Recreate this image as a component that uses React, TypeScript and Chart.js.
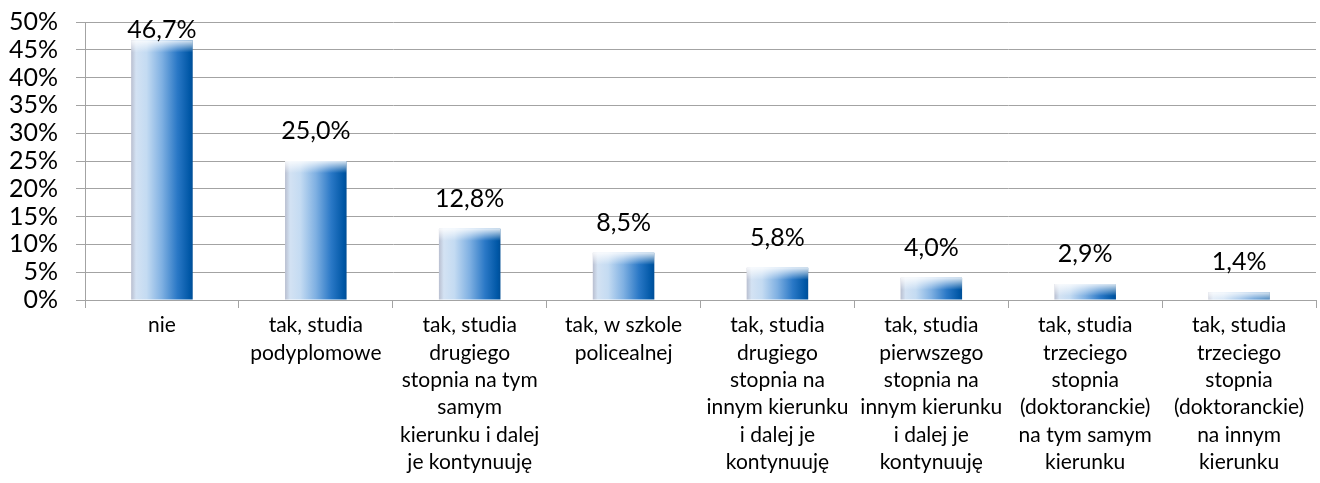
import React, { useEffect, useRef } from "react";
import { Chart, registerables } from "chart.js";

Chart.register(...registerables);

const categories: (string | string[])[] = [
  "nie",
  ["tak, studia", "podyplomowe"],
  ["tak, studia", "drugiego", "stopnia na tym", "samym", "kierunku i dalej", "je kontynuuję"],
  ["tak, w szkole", "policealnej"],
  ["tak, studia", "drugiego", "stopnia na", "innym kierunku", "i dalej je", "kontynuuję"],
  ["tak, studia", "pierwszego", "stopnia na", "innym kierunku", "i dalej je", "kontynuuję"],
  ["tak, studia", "trzeciego", "stopnia", "(doktoranckie)", "na tym samym", "kierunku"],
  ["tak, studia", "trzeciego", "stopnia", "(doktoranckie)", "na innym", "kierunku"],
];
const values: number[] = [46.7, 25.0, 12.8, 8.5, 5.8, 4.0, 2.9, 1.4];
const yMin = 0;
const yMax = 50;
const yStep = 5;

const BAR_FRACTION = 0.4;
const FONT = "Lato, 'Open Sans', sans-serif";
const GRID = "#a3a3a3";

const valueLabels = {
  id: "valueLabels",
  afterDatasetsDraw(chart: any) {
    const { ctx, chartArea } = chart;
    const meta = chart.getDatasetMeta(0);
    ctx.save();
    meta.data.forEach((bar: any) => {
      const w = bar.width;
      const left = bar.x - w / 2;
      const g = ctx.createLinearGradient(0, bar.y, 0, bar.y + 12);
      g.addColorStop(0, "rgba(255,255,255,0.85)");
      g.addColorStop(1, "rgba(255,255,255,0)");
      ctx.fillStyle = g;
      const h = Math.min(12, Math.abs(bar.base - bar.y));
      ctx.fillRect(left, bar.y, w, h);
    });
    ctx.font = `25px ${FONT}`;
    ctx.fillStyle = "#000";
    ctx.textAlign = "center";
    ctx.textBaseline = "middle";
    meta.data.forEach((bar: any, i: number) => {
      const y = Math.max(bar.y - 30, chartArea.top + 8);
      ctx.fillText(values[i].toFixed(1).replace(".", ",") + "%", bar.x, y);
    });
    ctx.restore();
  },
};

export default function App() {
  const ref = useRef<HTMLCanvasElement>(null);
  useEffect(() => {
    if (!ref.current) return;
    const chart = new Chart(ref.current, {
      type: "bar",
      data: {
        labels: categories,
        datasets: [
          {
            data: values,
            barPercentage: BAR_FRACTION,
            categoryPercentage: 1,
            backgroundColor: (ctx: any) => {
              const c = ctx.chart;
              const area = c.chartArea;
              if (!area || ctx.type !== "data" || !c.scales.x) return "#3a7fc8";
              const x = c.scales.x.getPixelForValue(ctx.dataIndex);
              const w = ((area.right - area.left) / categories.length) * BAR_FRACTION;
              const g = c.ctx.createLinearGradient(x - w / 2, 0, x + w / 2, 0);
              g.addColorStop(0, "#b9bfd0");
              g.addColorStop(0.08, "#d3e2f3");
              g.addColorStop(0.25, "#c4dbf2");
              g.addColorStop(0.5, "#7fb0e2");
              g.addColorStop(0.75, "#2a78c6");
              g.addColorStop(0.95, "#0057a6");
              g.addColorStop(1, "#004e96");
              return g;
            },
            borderWidth: 0,
          },
        ],
      },
      options: {
        animation: false,
        responsive: false,
        layout: { padding: { top: 22, right: 4, left: 0, bottom: 0 } },
        plugins: { legend: { display: false }, tooltip: { enabled: false } },
        scales: {
          x: {
            afterFit: (s: any) => {
              s.height = 183;
            },
            grid: {
              drawOnChartArea: false,
              offset: true,
              drawTicks: true,
              tickLength: 8,
              color: GRID,
            },
            border: { color: GRID },
            ticks: {
              autoSkip: false,
              maxRotation: 0,
              color: "#000",
              padding: 4,
              font: { family: FONT, size: 21, lineHeight: 1.3 },
            },
          },
          y: {
            min: yMin,
            max: yMax,
            afterFit: (s: any) => {
              s.width = 85;
              s.paddingTop = 0;
              s.paddingBottom = 0;
            },
            grid: { color: GRID, tickLength: 9, drawTicks: true },
            border: { color: GRID },
            ticks: {
              autoSkip: false,
              stepSize: yStep,
              color: "#000",
              padding: 18,
              font: { family: FONT, size: 25 },
              callback: (v: any) => v + "%",
            },
          },
        },
      },
      plugins: [valueLabels],
    });
    return () => chart.destroy();
  }, []);
  return (
    <div style={{ position: "fixed", left: 0, top: 0, width: 1320, height: 483, background: "#fff" }}>
      <canvas ref={ref} width={1320} height={483} />
    </div>
  );
}
